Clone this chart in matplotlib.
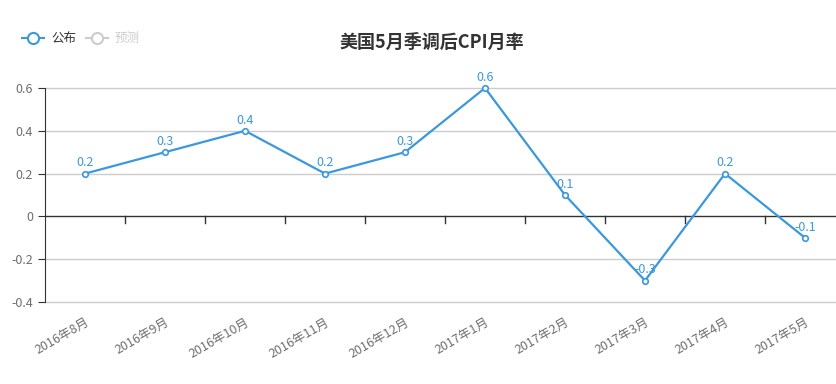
import matplotlib
matplotlib.use("Agg")
import matplotlib.pyplot as plt

plt.rcParams['font.family'] = ['Noto Sans CJK SC', 'DejaVu Sans']

months = ["2016年8月", "2016年9月", "2016年10月", "2016年11月", "2016年12月",
          "2017年1月", "2017年2月", "2017年3月", "2017年4月", "2017年5月"]
published = [0.2, 0.3, 0.4, 0.2, 0.3, 0.6, 0.1, -0.3, 0.2, -0.1]
yticks = [-0.4, -0.2, 0, 0.2, 0.4, 0.6]
ytick_labels = ["-0.4", "-0.2", "0", "0.2", "0.4", "0.6"]

blue = "#3a98dd"
grey = "#6e6e6e"

fig = plt.figure(figsize=(8.37, 3.84), dpi=100)
W, H = 837, 384
# plot area: x 45..845 px (right side runs past the canvas), y 88..302 px
ax = fig.add_axes([45 / W, (H - 302) / H, 800 / W, 214 / H])

x = list(range(len(months)))
ax.plot(x, published, color=blue, lw=1.6, marker='o', ms=4,
        mfc='white', mec=blue, mew=1.2, zorder=3, clip_on=False)
for xi, v in zip(x, published):
    ax.annotate(f"{v:g}", (xi, v), xytext=(0, 3), textcoords='offset points',
                ha='center', va='bottom', color=blue, fontsize=9)

ax.set_xlim(-0.5, len(months) - 0.5)
ax.set_ylim(-0.4, 0.6)
ax.set_yticks(yticks)
ax.set_yticklabels(ytick_labels)
for yv in yticks:
    if yv != 0:
        ax.axhline(yv, color='#cccccc', lw=1, zorder=1, clip_on=False)

for s in ['top', 'right', 'bottom']:
    ax.spines[s].set_visible(False)
ax.spines['left'].set_color('#333333')
ax.axhline(0, color='#333333', lw=1, zorder=2)

# category boundary ticks on the zero line
for b in range(1, len(months)):
    ax.plot([b - 0.5, b - 0.5], [0, -0.03], color='#333333', lw=1, zorder=2)

ax.tick_params(axis='y', colors='#333333', labelcolor=grey, labelsize=9,
               length=5, direction='out')
ax.set_xticks(x)
ax.set_xticklabels(months, rotation=30, ha='right', rotation_mode='anchor',
                   color=grey, fontsize=9)
ax.tick_params(axis='x', length=0, pad=10)

fig.text(432 / W, 1 - 42 / H, "美国5月季调后CPI月率", ha='center', va='center',
         fontsize=13, fontweight='bold', color='#333333')

# legend
ly = 1 - 38 / H
fig.add_artist(plt.Line2D([22 / W, 44 / W], [ly, ly], color=blue, lw=1.5,
                          transform=fig.transFigure))
fig.add_artist(plt.Line2D([33 / W], [ly], color=blue, marker='o', ms=8,
                          mfc='white', mew=1.5, transform=fig.transFigure))
fig.text(51 / W, ly, "公布", va='center', fontsize=9, color='#333333')
fig.add_artist(plt.Line2D([86 / W, 108 / W], [ly, ly], color='#cccccc', lw=1.5,
                          transform=fig.transFigure))
fig.add_artist(plt.Line2D([97 / W], [ly], color='#cccccc', marker='o', ms=8,
                          mfc='white', mew=1.5, transform=fig.transFigure))
fig.text(115 / W, ly, "预测", va='center', fontsize=9, color='#cccccc')

fig.savefig("out.png", dpi=100)
